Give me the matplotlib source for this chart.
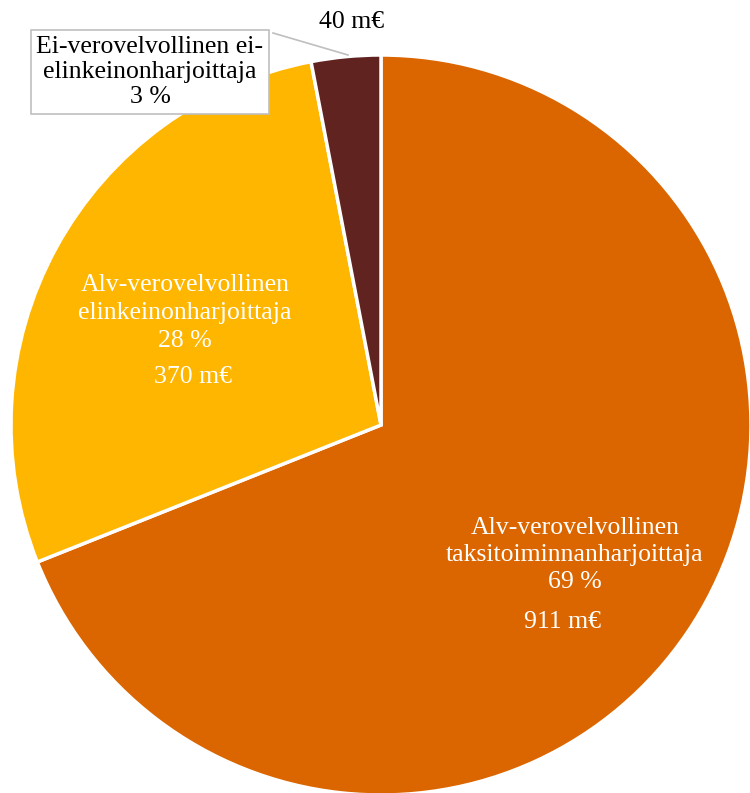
import matplotlib
matplotlib.use("Agg")
import matplotlib.pyplot as plt

labels = ["Alv-verovelvollinen\ntaksitoiminnanharjoittaja",
          "Alv-verovelvollinen\nelinkeinonharjoittaja",
          "Ei-verovelvollinen ei-\nelinkeinonharjoittaja"]
values = [911, 370, 40]
colors = ["#DB6600", "#FFB600", "#602320"]

total = sum(values)
pcts = [round(v / total * 100) for v in values]

plt.rcParams['font.family'] = ['Liberation Serif', 'DejaVu Serif']

H = 793
fig = plt.figure(figsize=(7.5, 7.93), dpi=100)
ax = fig.add_axes([0, 0, 1, 1])

wedges, _ = ax.pie(values, colors=colors, startangle=90, counterclock=False,
                   center=(381, H - 425), radius=370,
                   wedgeprops=dict(edgecolor='white', linewidth=2.5))
ax.set_xlim(0, 750)
ax.set_ylim(0, H)
ax.set_aspect('equal')
ax.axis('off')

fs = 18.5
ax.text(575, H - 555, labels[0] + "\n%d %%" % pcts[0], color='white', fontsize=fs,
        ha='center', va='center', linespacing=1.3)
ax.text(563, H - 622, "%d m€" % values[0], color='white', fontsize=fs, ha='center', va='center')

ax.text(185, H - 313, labels[1] + "\n%d %%" % pcts[1], color='white', fontsize=fs,
        ha='center', va='center', linespacing=1.35)
ax.text(193, H - 377, "%d m€" % values[1], color='white', fontsize=fs, ha='center', va='center')

ax.plot([273, 348], [H - 33, H - 55], color='#BFBFBF', lw=1.2)
ax.text(150, H - 72, labels[2] + "\n%d %%" % pcts[2], color='black', fontsize=fs,
        ha='center', va='center', linespacing=1.2,
        bbox=dict(boxstyle='square,pad=0.2', fc='white', ec='#BFBFBF', lw=1.2))
ax.text(352, H - 22, "%d m€" % values[2], color='black', fontsize=fs, ha='center', va='center')

fig.savefig("out.png", dpi=100)
